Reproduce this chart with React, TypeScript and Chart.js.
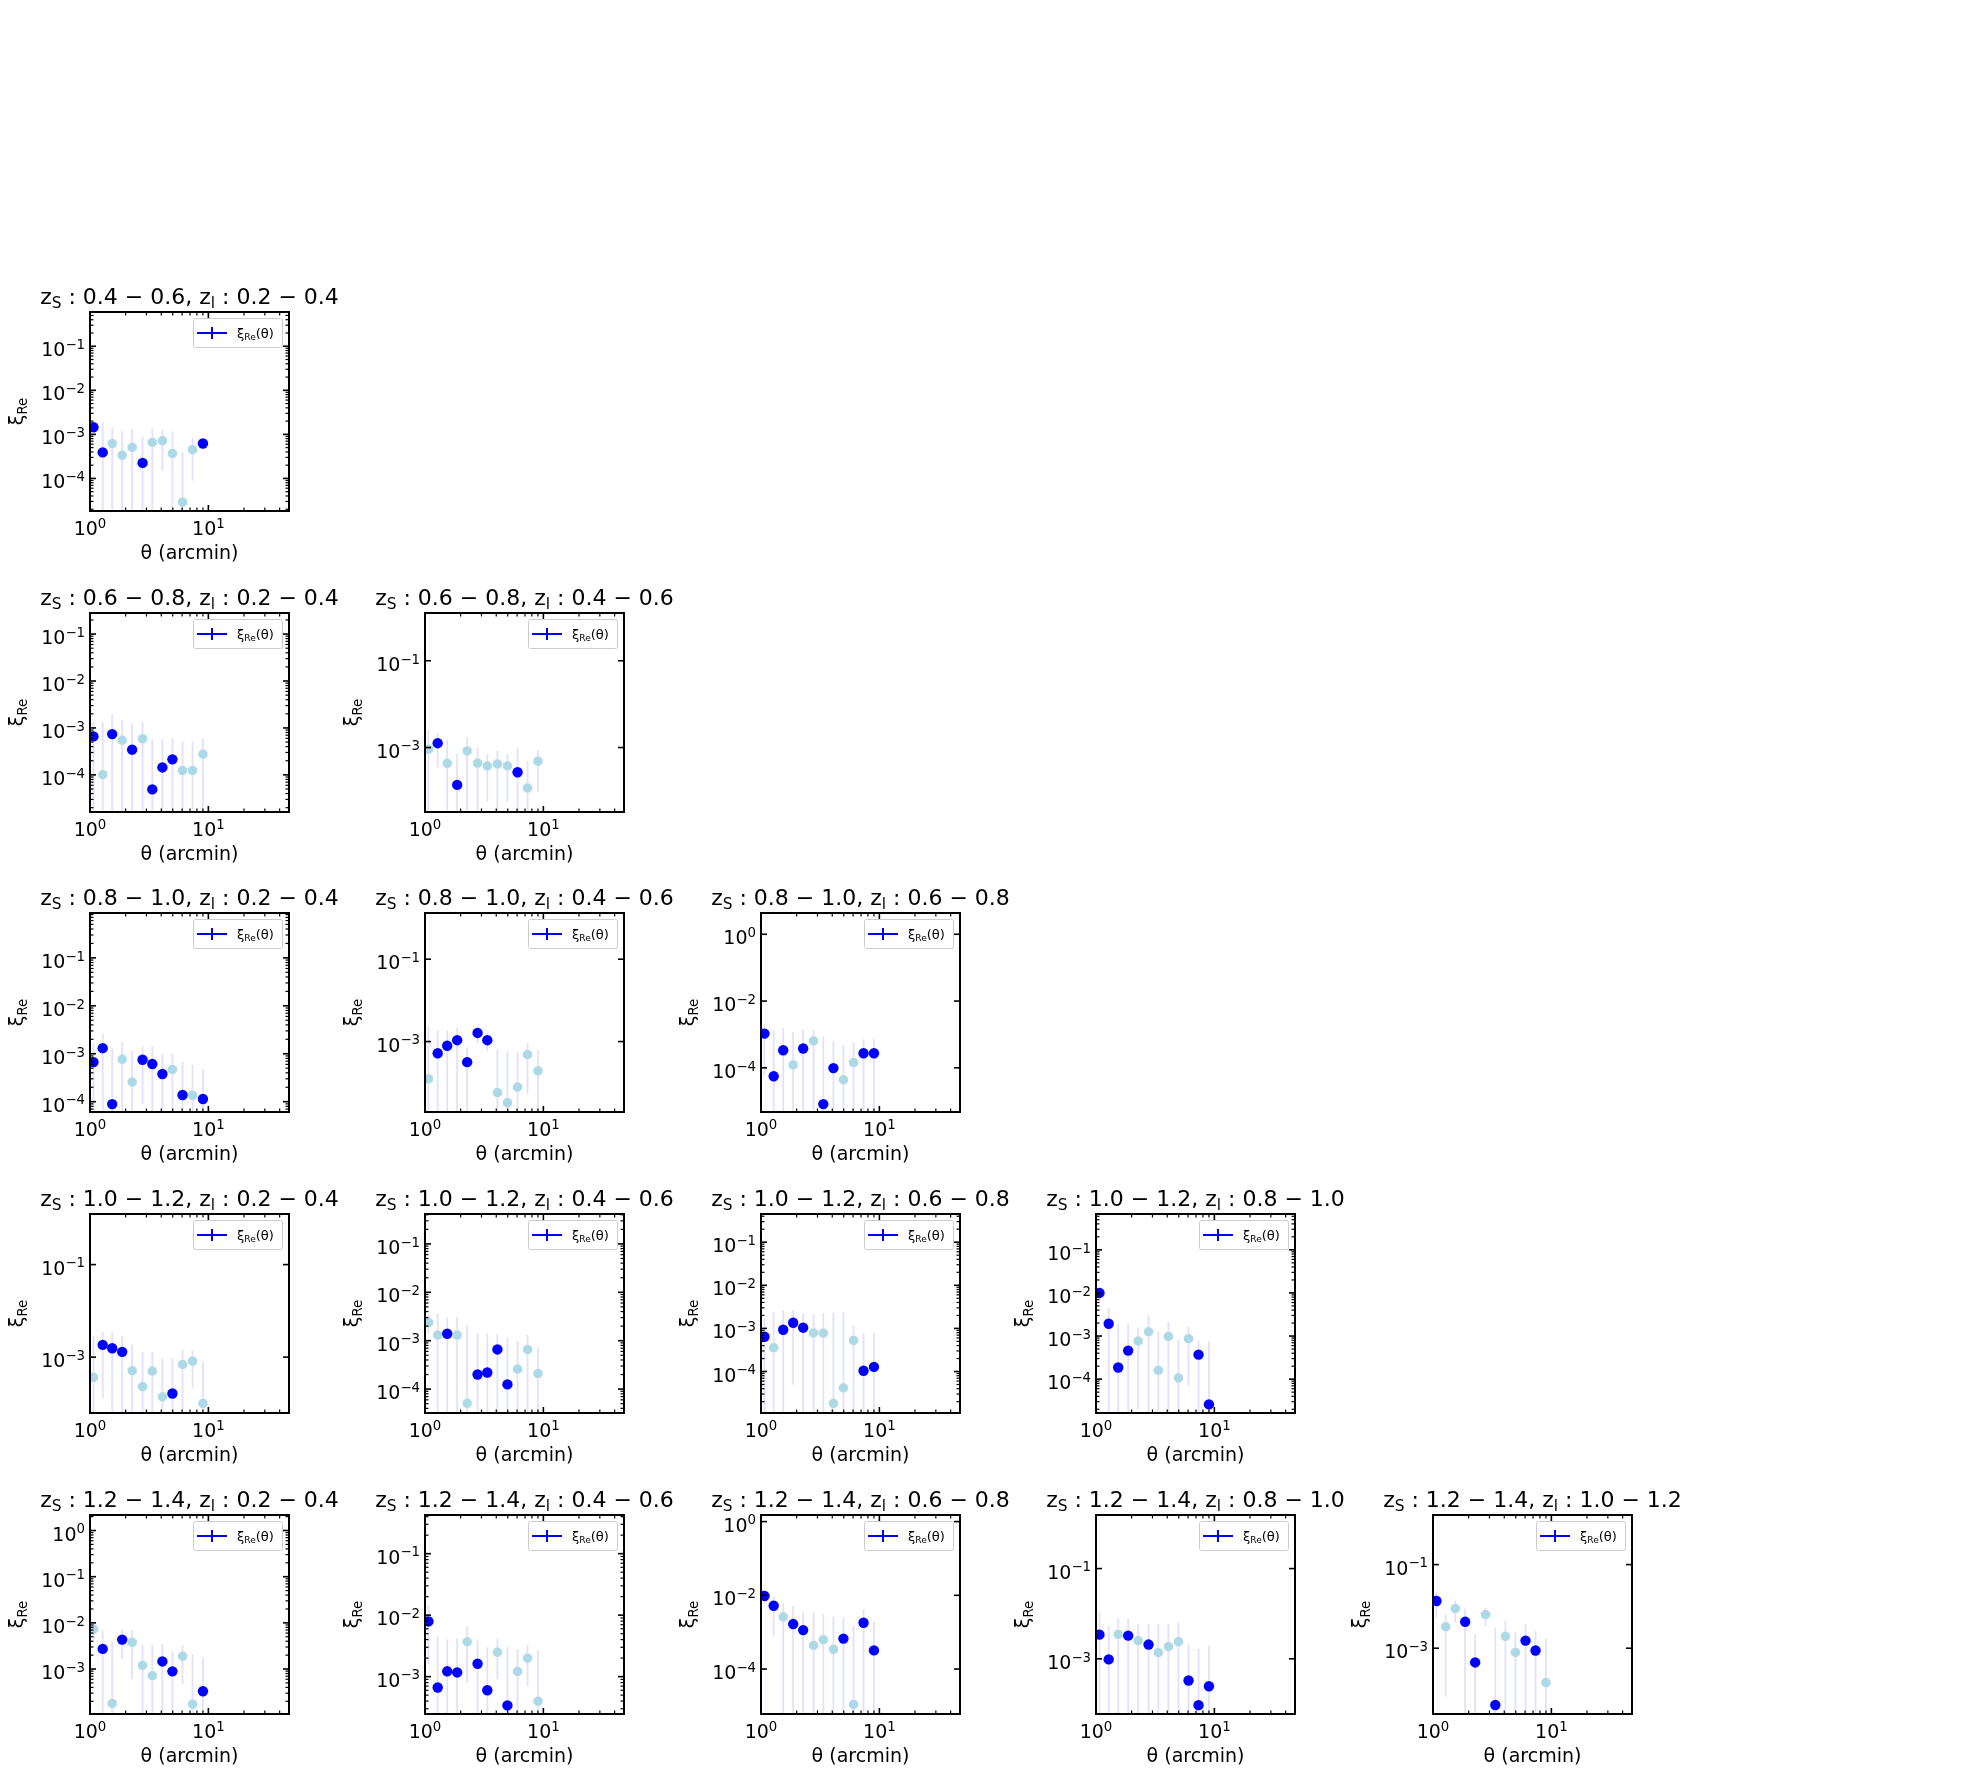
import React, { useEffect, useRef } from "react";
import { Chart, registerables } from "chart.js";
Chart.register(...registerables);

// ---------- data ----------
const THETA = [1.07, 1.28, 1.54, 1.87, 2.27, 2.78, 3.36, 4.09, 4.97, 6.05, 7.35, 9.0];
const ZS_BINS = ["0.4 − 0.6", "0.6 − 0.8", "0.8 − 1.0", "1.0 − 1.2", "1.2 − 1.4"];
const ZL_BINS = ["0.2 − 0.4", "0.4 − 0.6", "0.6 − 0.8", "0.8 − 1.0", "1.0 − 1.2"];
const X_MIN = 1;
const X_MAX = 48;
const X_MAJOR = [1, 10];
const X_MINOR = [2, 3, 4, 5, 6, 7, 8, 9, 20, 30, 40];

// signed xi_Re (negative values are drawn as |xi| in light blue)
const XI_S04_L02 = [1.45e-3, 3.9e-4, -6.2e-4, -3.37e-4, -5.1e-4, 2.25e-4, -6.6e-4, -7.2e-4, -3.7e-4, -2.9e-5, -4.5e-4, 6.2e-4];
const ERR_S04_L02 = [3e-4, 1.52e-3, 7.5e-4, 8.5e-4, 8.1e-4, 6.6e-4, 6.9e-4, 5.7e-4, 8e-4, 3.65e-4, 3.6e-4, 1e-4];

const XI_S06_L02 = [6.6e-4, -1.02e-4, 7.4e-4, -5.5e-4, 3.44e-4, -5.9e-4, 4.9e-5, 1.44e-4, 2.14e-4, -1.24e-4, -1.24e-4, -2.78e-4];
const ERR_S06_L02 = [7e-4, 1.24e-3, 1.22e-3, 9.3e-4, 8.8e-4, 7.5e-4, 5.3e-4, 4.4e-4, 4e-4, 3.9e-4, 3.9e-4, 3.2e-4];
const XI_S06_L04 = [-9.2e-4, 1.26e-3, -4.35e-4, 1.38e-4, -8.4e-4, -4.4e-4, -3.77e-4, -4.2e-4, -3.77e-4, 2.7e-4, -1.17e-4, -4.84e-4];
const ERR_S06_L04 = [1.64e-3, 9.1e-4, 1.1e-3, 5.8e-4, 9e-4, 5.6e-4, 3.2e-4, 4.2e-4, 3.2e-4, 7.3e-4, 3.7e-4, 3.9e-4];

const XI_S08_L02 = [6.7e-4, 1.31e-3, 8.9e-5, -7.7e-4, -2.58e-4, 7.5e-4, 6.1e-4, 3.78e-4, -4.72e-4, 1.38e-4, -1.36e-4, 1.14e-4];
const ERR_S08_L02 = [1e-3, 1.29e-3, 1.22e-3, 1.0e-3, 8.9e-4, 6.6e-4, 8.1e-4, 6.2e-4, 5.4e-4, 5.4e-4, 4.5e-4, 3.7e-4];
const XI_S08_L04 = [-1.25e-4, 5.2e-4, 7.9e-4, 1.08e-3, 3.16e-4, 1.62e-3, 1.08e-3, -5.8e-5, -3.3e-5, -7.9e-5, -4.84e-4, -1.95e-4];
const ERR_S08_L04 = [2.2e-3, 1.33e-3, 1.06e-3, 1.1e-3, 4e-4, 7e-4, 5e-4, 5.9e-4, 5.4e-4, 4.9e-4, 4.3e-4, 4.4e-4];
const XI_S08_L06 = [1.06e-3, 5.6e-5, 3.37e-4, -1.23e-4, 3.78e-4, -6.4e-4, 8.2e-6, 9.8e-5, -4.4e-5, -1.44e-4, 2.74e-4, 2.74e-4];
const ERR_S08_L06 = [1e-3, 1.3e-3, 1.26e-3, 1.08e-3, 9.8e-4, 7.2e-4, 8.5e-4, 5.4e-4, 4.4e-4, 4.3e-4, 4.4e-4, 4.6e-4];

const XI_S10_L02 = [-3.66e-4, 1.84e-3, 1.56e-3, 1.3e-3, -5.1e-4, -2.31e-4, -5.0e-4, -1.39e-4, 1.64e-4, -6.97e-4, -8.2e-4, -1.0e-4];
const ERR_S10_L02 = [2.5e-3, 1.71e-3, 2e-3, 1.6e-3, 1.36e-3, 1.07e-3, 8e-4, 8e-4, 7.7e-4, 7.5e-4, 6e-4, 7.2e-4];
const XI_S10_L04 = [-2.39e-3, -1.31e-3, 1.39e-3, -1.31e-3, -5.1e-5, 2.0e-4, 2.2e-4, 6.6e-4, 1.25e-4, -2.6e-4, -6.6e-4, -2.1e-4];
const ERR_S10_L04 = [1e-3, 2.35e-3, 1.7e-3, 1.8e-3, 2.05e-3, 1.22e-3, 1.2e-3, 7e-4, 1.03e-3, 7.4e-4, 6.8e-4, 5.1e-4];
const XI_S10_L06 = [6.4e-4, -3.58e-4, 9.3e-4, 1.35e-3, 1.04e-3, -7.9e-4, -7.8e-4, -1.83e-5, -4.2e-5, -5.3e-4, 1.04e-4, 1.28e-4];
const ERR_S10_L06 = [1e-3, 2.0e-3, 1.7e-3, 1.3e-3, 1.2e-3, 1.4e-3, 1.5e-3, 2.3e-3, 2.3e-3, 6.6e-4, 6.7e-4, 6.4e-4];
const XI_S10_L08 = [1.0e-2, 1.93e-3, 1.86e-4, 4.6e-4, -7.7e-4, -1.26e-3, -1.61e-4, -9.8e-4, -1.07e-4, -8.7e-4, 3.7e-4, 2.6e-5];
const ERR_S10_L08 = [3e-3, 2.6e-3, 1.7e-3, 1.44e-3, 7.5e-4, 1.74e-3, 1.1e-3, 1.12e-3, 7.3e-4, 8e-4, 4e-4, 7.4e-4];

const XI_S12_L02 = [-7.3e-3, 2.73e-3, -1.8e-4, 4.34e-3, -3.8e-3, -1.2e-3, -7.2e-4, 1.46e-3, 8.9e-4, -1.9e-3, -1.74e-4, 3.3e-4];
const ERR_S12_L02 = [3e-3, 4e-3, 3.9e-3, 2.7e-3, 3.2e-3, 2.1e-3, 2.6e-3, 2.04e-3, 1.6e-3, 1.43e-3, 1.9e-3, 1.47e-3];
const XI_S12_L04 = [7.9e-3, 6.65e-4, 1.22e-3, 1.17e-3, -3.7e-3, 1.62e-3, 6.0e-4, -2.5e-3, 3.4e-4, -1.22e-3, -2.0e-3, -4.0e-4];
const ERR_S12_L04 = [6.3e-3, 3.8e-3, 2.8e-3, 3e-3, 2.9e-3, 2.4e-3, 2.4e-3, 1.6e-3, 2.7e-3, 1.6e-3, 1.3e-3, 2.3e-3];
const XI_S12_L06 = [9.6e-3, 5.2e-3, -2.6e-3, 1.66e-3, 1.14e-3, -4.4e-4, -6.3e-4, -3.45e-4, 6.7e-4, -1.1e-5, 1.8e-3, 3.2e-4];
const ERR_S12_L06 = [4e-3, 4.4e-3, 3.4e-3, 3.5e-3, 2.3e-3, 3e-3, 2.5e-3, 2.3e-3, 1.9e-3, 1.5e-3, 2.3e-3, 1.6e-3];
const XI_S12_L08 = [3.43e-3, 9.7e-4, -3.5e-3, 3.26e-3, -2.53e-3, 2.07e-3, -1.38e-3, -1.87e-3, -2.4e-3, 3.3e-4, 9.4e-5, 2.47e-4];
const ERR_S12_L08 = [7.2e-3, 4.4e-3, 4.5e-3, 4.5e-3, 3.4e-3, 3.8e-3, 4.5e-3, 4e-3, 4e-3, 1.8e-3, 1.57e-3, 1.7e-3];
const XI_S12_L10 = [1.35e-2, -3.27e-3, -8.9e-3, 4.28e-3, 4.57e-4, -6.4e-3, 4.4e-5, -1.93e-3, -8.0e-4, 1.52e-3, 8.8e-4, -1.51e-4];
const ERR_S12_L10 = [8e-3, 3.2e-3, 4.8e-3, 4.5e-3, 1.73e-3, 3e-3, 3.1e-3, 2.6e-3, 1.6e-3, 2.3e-3, 1.7e-3, 1.58e-3];

const XI_ALL = [
  XI_S04_L02,
  XI_S06_L02, XI_S06_L04,
  XI_S08_L02, XI_S08_L04, XI_S08_L06,
  XI_S10_L02, XI_S10_L04, XI_S10_L06, XI_S10_L08,
  XI_S12_L02, XI_S12_L04, XI_S12_L06, XI_S12_L08, XI_S12_L10,
];
const ERR_ALL = [
  ERR_S04_L02,
  ERR_S06_L02, ERR_S06_L04,
  ERR_S08_L02, ERR_S08_L04, ERR_S08_L06,
  ERR_S10_L02, ERR_S10_L04, ERR_S10_L06, ERR_S10_L08,
  ERR_S12_L02, ERR_S12_L04, ERR_S12_L06, ERR_S12_L08, ERR_S12_L10,
];
// y-axis limits (log10) and decade ticks
const Y_LOG_MIN = [-4.739, -4.791, -4.485, -4.215, -4.71, -5.323, -4.207, -4.494, -4.962, -4.785, -3.974, -3.608, -5.22, -4.223, -4.573];
const Y_LOG_MAX = [-0.223, -0.551, 0.1, -0.064, 0.121, 0.637, 0.093, -0.382, -0.346, -0.169, 0.336, -0.371, 0.179, 0.187, 0.186];
const Y_TICK_EXPS = [
  [-1, -2, -3, -4],
  [-1, -2, -3, -4], [-1, -3],
  [-1, -2, -3, -4], [-1, -3], [0, -2, -4],
  [-1, -3], [-1, -2, -3, -4], [-1, -2, -3, -4], [-1, -2, -3, -4],
  [0, -1, -2, -3], [-1, -2, -3], [0, -2, -4], [-1, -3], [-1, -3],
];
const Y_MINOR = [true, true, false, true, false, false, false, true, true, true, true, true, false, false, false];
const PANEL_ROW = [0, 1, 1, 2, 2, 2, 3, 3, 3, 3, 4, 4, 4, 4, 4];
const PANEL_COL = [0, 0, 1, 0, 1, 2, 0, 1, 2, 3, 0, 1, 2, 3, 4];

// ---------- layout / style ----------
const AX_LEFT = [90, 425, 761, 1096, 1433];
const AX_TOP = [312, 613, 913, 1214, 1515];
const AX_W = 199;
const AX_H = 199;
const PAD_L = 95, PAD_T = 50, PAD_R = 62, PAD_B = 62;
const CW = PAD_L + AX_W + PAD_R;
const CH = PAD_T + AX_H + PAD_B;
const FONT = '"DejaVu Sans", sans-serif';
const TITLE_PX = 22, TICK_PX = 19, LABEL_PX = 19, LEGEND_PX = 13;
const SUB = 0.7;
const POS_COLOR = "#0000ff";
const NEG_COLOR = "#add8e6";
const ERR_COLOR = "#e1e1fb";

type Run = { t: string; k: "n" | "sub" | "sup" };
const fontOf = (px: number) => `${px}px ${FONT}`;

function runsWidth(ctx: CanvasRenderingContext2D, runs: Run[], px: number) {
  let w = 0;
  for (const r of runs) {
    ctx.font = fontOf(r.k === "n" ? px : px * SUB);
    w += ctx.measureText(r.t).width;
  }
  return w;
}
function drawRuns(ctx: CanvasRenderingContext2D, runs: Run[], x: number, y: number, px: number) {
  let cx = x;
  ctx.textAlign = "left";
  ctx.textBaseline = "alphabetic";
  for (const r of runs) {
    const sz = r.k === "n" ? px : px * SUB;
    ctx.font = fontOf(sz);
    const dy = r.k === "sub" ? px * 0.2 : r.k === "sup" ? -px * 0.38 : 0;
    ctx.fillText(r.t, cx, y + dy);
    cx += ctx.measureText(r.t).width;
  }
}
const powRuns = (e: number): Run[] => [
  { t: "10", k: "n" },
  { t: e < 0 ? "−" + String(-e) : String(e), k: "sup" },
];

function makeOctagon(r: number, color: string) {
  const s = Math.ceil(r * 2) + 1;
  const c = document.createElement("canvas");
  c.width = s;
  c.height = s;
  const g = c.getContext("2d")!;
  g.fillStyle = color;
  g.beginPath();
  for (let i = 0; i < 8; i++) {
    const a = Math.PI / 8 + (i * Math.PI) / 4;
    const px = s / 2 + r * Math.cos(a);
    const py = s / 2 + r * Math.sin(a);
    if (i === 0) g.moveTo(px, py);
    else g.lineTo(px, py);
  }
  g.closePath();
  g.fill();
  return c;
}

function Panel({ idx }: { idx: number }) {
  const ref = useRef<HTMLCanvasElement | null>(null);
  const row = PANEL_ROW[idx];
  const col = PANEL_COL[idx];
  useEffect(() => {
    const cv = ref.current!;
    const xi = XI_ALL[idx];
    const err = ERR_ALL[idx];
    const pos: { x: number; y: number }[] = [];
    const neg: { x: number; y: number }[] = [];
    xi.forEach((v, i) => (v >= 0 ? pos : neg).push({ x: THETA[i], y: Math.abs(v) }));
    const yMin = Math.pow(10, Y_LOG_MIN[idx]);
    const yMax = Math.pow(10, Y_LOG_MAX[idx]);

    const decor = {
      id: "decor" + idx,
      beforeDatasetsDraw(chart: any) {
        const { ctx, chartArea: a, scales } = chart;
        const xs = scales.x, ys = scales.y;
        ctx.save();
        ctx.beginPath();
        ctx.rect(a.left, a.top, a.right - a.left, a.bottom - a.top);
        ctx.clip();
        ctx.strokeStyle = ERR_COLOR;
        ctx.lineWidth = 1.8;
        xi.forEach((v, i) => {
          const m = Math.abs(v);
          const e = err[i];
          const x = xs.getPixelForValue(THETA[i]);
          const yHi = ys.getPixelForValue(m + e);
          const yLo = m - e > 0 ? ys.getPixelForValue(m - e) : a.bottom + 10;
          ctx.beginPath();
          ctx.moveTo(x, yHi);
          ctx.lineTo(x, yLo);
          ctx.stroke();
        });
        ctx.restore();
      },
      afterDraw(chart: any) {
        const { ctx, chartArea: a, scales } = chart;
        const xs = scales.x, ys = scales.y;
        ctx.save();
        ctx.fillStyle = "#000";
        ctx.strokeStyle = "#000";
        const tick = (x1: number, y1: number, x2: number, y2: number, w: number) => {
          ctx.lineWidth = w;
          ctx.beginPath();
          ctx.moveTo(x1, y1);
          ctx.lineTo(x2, y2);
          ctx.stroke();
        };
        for (const v of X_MAJOR) {
          const x = xs.getPixelForValue(v);
          tick(x, a.bottom, x, a.bottom - 6, 1.6);
          tick(x, a.top, x, a.top + 6, 1.6);
        }
        for (const v of X_MINOR) {
          const x = xs.getPixelForValue(v);
          tick(x, a.bottom, x, a.bottom - 3.5, 1.2);
          tick(x, a.top, x, a.top + 3.5, 1.2);
        }
        for (const e of Y_TICK_EXPS[idx]) {
          const y = ys.getPixelForValue(Math.pow(10, e));
          tick(a.left, y, a.left + 6, y, 1.6);
          tick(a.right, y, a.right - 6, y, 1.6);
        }
        if (Y_MINOR[idx]) {
          for (let d = Math.floor(Y_LOG_MIN[idx]); d <= Math.ceil(Y_LOG_MAX[idx]); d++) {
            for (let m = 2; m <= 9; m++) {
              const v = m * Math.pow(10, d);
              if (v <= yMin || v >= yMax) continue;
              const y = ys.getPixelForValue(v);
              tick(a.left, y, a.left + 3.5, y, 1.2);
              tick(a.right, y, a.right - 3.5, y, 1.2);
            }
          }
        }
        // frame
        ctx.lineWidth = 2;
        ctx.strokeRect(a.left, a.top, a.right - a.left, a.bottom - a.top);
        // tick labels
        for (let k = 0; k < X_MAJOR.length; k++) {
          const x = xs.getPixelForValue(X_MAJOR[k]);
          const runs = powRuns(k);
          const w = runsWidth(ctx, runs, TICK_PX);
          drawRuns(ctx, runs, x - w / 2, a.bottom + 24, TICK_PX);
        }
        for (const e of Y_TICK_EXPS[idx]) {
          const y = ys.getPixelForValue(Math.pow(10, e));
          const runs = powRuns(e);
          const w = runsWidth(ctx, runs, TICK_PX);
          drawRuns(ctx, runs, a.left - 5 - w, y + 10, TICK_PX);
        }
        // axis labels
        const cx = (a.left + a.right) / 2;
        const cy = (a.top + a.bottom) / 2;
        const xl: Run[] = [{ t: "θ (arcmin)", k: "n" }];
        drawRuns(ctx, xl, cx - runsWidth(ctx, xl, LABEL_PX) / 2, a.bottom + 48, LABEL_PX);
        const yl: Run[] = [{ t: "ξ", k: "n" }, { t: "Re", k: "sub" }];
        ctx.save();
        ctx.translate(a.left - 67, cy);
        ctx.rotate(-Math.PI / 2);
        drawRuns(ctx, yl, -runsWidth(ctx, yl, LABEL_PX) / 2, 0, LABEL_PX);
        ctx.restore();
        // title
        const tl: Run[] = [
          { t: "z", k: "n" },
          { t: "S", k: "sub" },
          { t: " : " + ZS_BINS[row] + ", z", k: "n" },
          { t: "l", k: "sub" },
          { t: " : " + ZL_BINS[col], k: "n" },
        ];
        drawRuns(ctx, tl, cx - runsWidth(ctx, tl, TITLE_PX) / 2, a.top - 8, TITLE_PX);
        // legend
        const bw = 89, bh = 29;
        const bx = a.right - 7 - bw, by = a.top + 6;
        ctx.fillStyle = "rgba(255,255,255,0.85)";
        ctx.strokeStyle = "#cccccc";
        ctx.lineWidth = 1;
        ctx.beginPath();
        (ctx as any).roundRect(bx + 0.5, by + 0.5, bw, bh, 2);
        ctx.fill();
        ctx.stroke();
        const ly = by + bh / 2 + 0.5;
        ctx.strokeStyle = POS_COLOR;
        tick(bx + 4, ly, bx + 34, ly, 2);
        tick(bx + 19, ly - 6, bx + 19, ly + 6, 2);
        ctx.fillStyle = "#000";
        const lg: Run[] = [{ t: "ξ", k: "n" }, { t: "Re", k: "sub" }, { t: "(θ)", k: "n" }];
        drawRuns(ctx, lg, bx + 44, ly + 4.5, LEGEND_PX);
        ctx.restore();
      },
    };

    const chart = new Chart(cv, {
      type: "scatter",
      data: {
        datasets: [
          {
            data: pos,
            pointStyle: "circle",
            pointRadius: 5.2,
            backgroundColor: POS_COLOR,
            borderWidth: 0,
            clip: 0,
          } as any,
          {
            data: neg,
            pointStyle: makeOctagon(5.0, NEG_COLOR),
            pointRadius: 5.0,
            backgroundColor: NEG_COLOR,
            borderWidth: 0,
            clip: 0,
          } as any,
        ],
      },
      options: {
        responsive: false,
        animation: false,
        devicePixelRatio: 1,
        events: [],
        layout: { padding: { left: PAD_L, top: PAD_T, right: PAD_R, bottom: PAD_B } },
        scales: {
          x: { type: "logarithmic", min: X_MIN, max: X_MAX, display: false, bounds: "data" } as any,
          y: { type: "logarithmic", min: yMin, max: yMax, display: false, bounds: "data" } as any,
        },
        plugins: { legend: { display: false }, tooltip: { enabled: false } },
      },
      plugins: [decor as any],
    });
    return () => chart.destroy();
  }, [idx]);
  return (
    <canvas
      ref={ref}
      width={CW}
      height={CH}
      style={{
        position: "absolute",
        left: AX_LEFT[col] - PAD_L,
        top: AX_TOP[row] - PAD_T,
        width: CW,
        height: CH,
      }}
    />
  );
}

export default function App() {
  return (
    <div style={{ position: "absolute", left: 0, top: 0, width: 1978, height: 1778, background: "#fff" }}>
      {XI_ALL.map((_, i) => (
        <Panel key={i} idx={i} />
      ))}
    </div>
  );
}
